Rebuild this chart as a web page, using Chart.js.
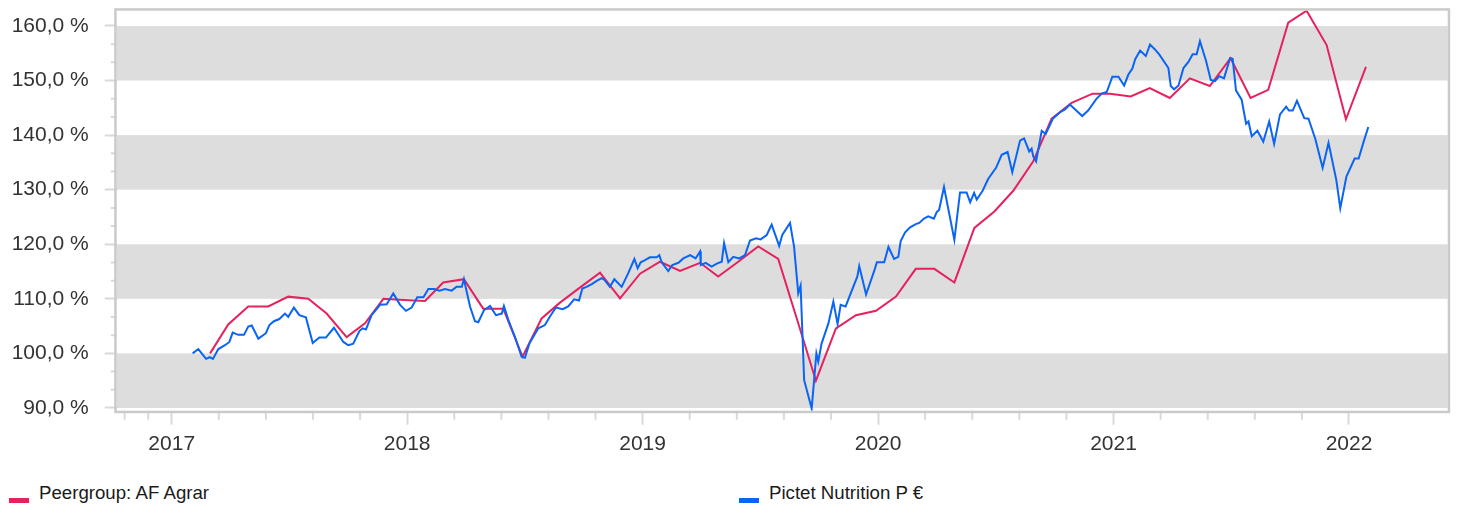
<!DOCTYPE html>
<html>
<head>
<meta charset="utf-8">
<script src="https://cdn.jsdelivr.net/npm/chart.js@4.4.1/dist/chart.umd.min.js"></script>
<style>
  html, body { margin: 0; padding: 0; background: #ffffff; }
  #wrap { position: relative; width: 1460px; height: 508px; overflow: hidden; }
  #box { position: absolute; left: 0; top: 0; width: 1460px; height: 470px; }
  .lg-item { position: absolute; top: 470px; width: 730px; height: 38px; }
  .lg-mark { position: absolute; left: 9px; top: 28px; width: 20px; height: 5px; }
  .lg-text { position: absolute; left: 39px; top: 12.8px; line-height: 20px; white-space: nowrap;
             font-family: "Liberation Sans", Arial, sans-serif; font-size: 18.67px; color: #1a1a1a; }
</style>
</head>
<body>
<div id="wrap">
  <div id="box"><canvas id="c"></canvas></div>
  <div id="legend"></div>
</div>
<script>
// ---------- data ----------
const seriesNames = ["Peergroup: AF Agrar", "Pictet Nutrition P €"];
const seriesColors = ["#e5225e", "#0a64f6"];

const yearTicks = [2017, 2018, 2019, 2020, 2021, 2022];
const xMinorTicks = [2016.8, 2016.9, 2017.2, 2017.4, 2017.6, 2017.8, 2018.2, 2018.4, 2018.6, 2018.8,
  2019.2, 2019.4, 2019.6, 2019.8, 2020.2, 2020.4, 2020.6, 2020.8, 2021.2, 2021.4, 2021.6, 2021.8];
const yTicks = [90, 100, 110, 120, 130, 140, 150, 160];
const bandRanges = [[90, 100], [110, 120], [130, 140], [150, 160]];

// Peergroup (monthly), x in decimal years, y in %
const peerX = [2017.163, 2017.240, 2017.325, 2017.410, 2017.495, 2017.580, 2017.658, 2017.743, 2017.821, 2017.899,
  2017.988, 2018.076, 2018.153, 2018.241, 2018.323, 2018.408, 2018.490, 2018.571, 2018.649, 2018.735,
  2018.819, 2018.904, 2018.989, 2019.074, 2019.159, 2019.244, 2019.321, 2019.406, 2019.491, 2019.576,
  2019.656, 2019.736, 2019.821, 2019.906, 2019.991, 2020.076, 2020.160, 2020.239, 2020.324, 2020.409,
  2020.494, 2020.574, 2020.659, 2020.737, 2020.822, 2020.911, 2020.985, 2021.073, 2021.154, 2021.239,
  2021.324, 2021.409, 2021.497, 2021.582, 2021.657, 2021.742, 2021.820, 2021.905, 2021.987, 2022.072];
const peerY = [100.0, 105.3, 108.6, 108.6, 110.4, 110.0, 107.3, 103.0, 105.5, 110.0,
  109.8, 109.6, 113.0, 113.6, 108.2, 108.2, 99.4, 106.4, 109.3, 112.1,
  114.8, 110.1, 114.6, 116.8, 115.1, 116.6, 114.1, 116.8, 119.6, 117.3,
  106.2, 95.0, 104.6, 107.0, 107.8, 110.4, 115.5, 115.5, 113.0, 123.0,
  126.0, 129.8, 135.2, 143.0, 145.9, 147.6, 147.6, 147.1, 148.6, 146.8,
  150.4, 149.0, 154.1, 146.8, 148.3, 160.6, 162.8, 156.5, 142.9, 152.5];

// Pictet Nutrition P € (weekly)
const fundX = [
  2017.089, 2017.113, 2017.146, 2017.161, 2017.175, 2017.198, 2017.226, 2017.245, 2017.259, 2017.283,
  2017.307, 2017.325, 2017.340, 2017.368, 2017.400, 2017.415, 2017.434, 2017.457, 2017.481, 2017.495,
  2017.519, 2017.542, 2017.570, 2017.599, 2017.627, 2017.655, 2017.689, 2017.729, 2017.750, 2017.771,
  2017.797, 2017.811, 2017.825, 2017.849, 2017.885, 2017.913, 2017.941, 2017.970, 2017.995, 2018.019,
  2018.043, 2018.069, 2018.090, 2018.114, 2018.137, 2018.161, 2018.189, 2018.210, 2018.232, 2018.241,
  2018.267, 2018.288, 2018.302, 2018.326, 2018.352, 2018.377, 2018.402, 2018.411, 2018.430, 2018.458,
  2018.486, 2018.500, 2018.519, 2018.557, 2018.585, 2018.607, 2018.632, 2018.661, 2018.684, 2018.709,
  2018.730, 2018.744, 2018.762, 2018.784, 2018.805, 2018.826, 2018.837, 2018.861, 2018.880, 2018.911,
  2018.939, 2018.965, 2018.979, 2018.992, 2019.010, 2019.031, 2019.060, 2019.071, 2019.081, 2019.109,
  2019.126, 2019.152, 2019.173, 2019.202, 2019.225, 2019.244, 2019.247, 2019.268, 2019.293, 2019.317,
  2019.336, 2019.346, 2019.364, 2019.385, 2019.410, 2019.435, 2019.456, 2019.482, 2019.501, 2019.527,
  2019.548, 2019.580, 2019.593, 2019.626, 2019.643, 2019.661, 2019.671, 2019.686, 2019.718, 2019.738,
  2019.746, 2019.760, 2019.789, 2019.810, 2019.828, 2019.841, 2019.862, 2019.912, 2019.920, 2019.949,
  2019.985, 2019.995, 2020.026, 2020.044, 2020.068, 2020.086, 2020.096, 2020.115, 2020.136, 2020.160,
  2020.175, 2020.195, 2020.213, 2020.237, 2020.249, 2020.259, 2020.280, 2020.324, 2020.348, 2020.376,
  2020.391, 2020.408, 2020.419, 2020.444, 2020.468, 2020.501, 2020.525, 2020.550, 2020.570, 2020.603,
  2020.620, 2020.642, 2020.652, 2020.659, 2020.671, 2020.695, 2020.712, 2020.742, 2020.773, 2020.794,
  2020.815, 2020.867, 2020.892, 2020.928, 2020.950, 2020.971, 2020.995, 2021.021, 2021.045, 2021.063,
  2021.080, 2021.092, 2021.113, 2021.137, 2021.155, 2021.176, 2021.194, 2021.233, 2021.243, 2021.257,
  2021.276, 2021.297, 2021.318, 2021.336, 2021.353, 2021.367, 2021.393, 2021.413, 2021.431, 2021.449,
  2021.469, 2021.495, 2021.506, 2021.520, 2021.544, 2021.563, 2021.573, 2021.587, 2021.611, 2021.636,
  2021.661, 2021.682, 2021.707, 2021.733, 2021.745, 2021.761, 2021.779, 2021.810, 2021.828, 2021.857,
  2021.888, 2021.913, 2021.946, 2021.963, 2021.989, 2022.024, 2022.041, 2022.063, 2022.082];
const fundY = [
  100.0, 100.8, 99.0, 99.3, 99.0, 100.8, 101.5, 102.1, 103.8, 103.4,
  103.4, 104.9, 105.1, 102.7, 103.7, 105.2, 105.9, 106.3, 107.3, 106.7,
  108.4, 107.0, 106.6, 101.9, 102.9, 102.9, 104.7, 102.1, 101.5, 101.8,
  104.1, 104.6, 104.4, 107.0, 108.9, 109.0, 111.0, 108.9, 107.8, 108.4,
  110.3, 110.3, 111.8, 111.8, 111.5, 111.8, 111.5, 112.2, 112.2, 113.6,
  108.6, 105.9, 105.7, 107.9, 108.7, 107.0, 107.3, 108.7, 106.1, 103.0,
  99.4, 99.2, 101.8, 104.6, 105.2, 106.8, 108.4, 108.1, 108.6, 109.9,
  109.7, 111.9, 112.2, 112.7, 113.3, 113.8, 113.5, 112.2, 113.6, 112.2,
  114.7, 117.3, 115.6, 116.7, 117.1, 117.6, 117.6, 118.0, 116.7, 115.1,
  116.2, 116.6, 117.4, 118.0, 117.4, 118.7, 116.2, 116.6, 115.9, 116.5,
  116.8, 120.2, 116.7, 117.7, 117.4, 118.0, 120.7, 121.1, 120.9, 121.7,
  123.6, 119.7, 121.7, 123.9, 119.6, 111.0, 112.4, 95.1, 89.9, 100.0,
  98.5, 101.8, 105.5, 109.5, 105.4, 108.9, 108.6, 114.1, 116.0, 110.8,
  115.3, 116.7, 116.7, 119.5, 117.3, 117.7, 120.6, 122.2, 123.1, 123.7,
  123.9, 124.7, 125.1, 124.7, 125.9, 126.3, 130.5, 120.8, 129.5, 129.5,
  127.7, 129.4, 128.2, 129.8, 132.0, 134.0, 136.4, 136.9, 133.2, 139.0,
  139.4, 137.0, 137.5, 136.1, 135.2, 140.8, 140.2, 143.0, 144.2, 144.7,
  145.6, 143.5, 144.5, 146.7, 147.6, 147.9, 150.7, 150.7, 149.1, 151.1,
  152.2, 153.9, 155.5, 154.5, 156.6, 155.7, 154.8, 152.3, 149.0, 148.4,
  149.1, 152.3, 153.4, 154.8, 154.8, 157.2, 153.6, 150.1, 149.9, 150.8,
  150.4, 154.1, 154.0, 148.2, 146.5, 142.1, 142.5, 139.8, 140.8, 138.8,
  142.5, 138.4, 143.8, 145.2, 144.5, 144.5, 146.3, 143.1, 143.0, 139.3,
  134.0, 138.6, 131.8, 126.6, 132.4, 135.7, 135.7, 138.9, 141.5];

// ---------- style ----------
const FONT = '"Liberation Sans", Arial, sans-serif';
const bandColor = '#dddddd';
const frameColor = '#cacaca';
const tickColor = '#d9d9d9';

const toPoints = (xs, ys) => xs.map((x, i) => ({ x: x, y: ys[i] }));

const decorPlugin = {
  id: 'decor',
  beforeDatasetsDraw(chart) {
    const { ctx, chartArea: a, scales: { x, y } } = chart;
    ctx.save();
    ctx.fillStyle = bandColor;
    for (const [lo, hi] of bandRanges) {
      const p1 = y.getPixelForValue(hi), p0 = y.getPixelForValue(lo);
      ctx.fillRect(a.left, p1, a.right - a.left, p0 - p1);
    }
    ctx.strokeStyle = tickColor;
    ctx.lineWidth = 2;
    ctx.beginPath();
    for (let i = 0; i < yTicks.length - 1; i++) {
      for (const f of [1 / 3, 2 / 3]) {
        const py = y.getPixelForValue(yTicks[i] + (yTicks[i + 1] - yTicks[i]) * f);
        ctx.moveTo(a.left - 6, py); ctx.lineTo(a.left, py);
      }
    }
    for (const v of xMinorTicks) {
      const px = x.getPixelForValue(v);
      ctx.moveTo(px, a.bottom); ctx.lineTo(px, a.bottom + 9);
    }
    ctx.stroke();
    ctx.strokeStyle = frameColor;
    ctx.lineWidth = 2.5;
    ctx.strokeRect(a.left - 1.25, a.top - 1.25, a.right - a.left + 2.5, a.bottom - a.top + 2.5);
    ctx.restore();
  }
};

const chart = new Chart(document.getElementById('c'), {
  type: 'line',
  data: {
    datasets: [
      { label: seriesNames[0], data: toPoints(peerX, peerY), borderColor: seriesColors[0],
        backgroundColor: seriesColors[0], borderWidth: 2, pointRadius: 0, tension: 0, order: 1 },
      { label: seriesNames[1], data: toPoints(fundX, fundY), borderColor: seriesColors[1],
        backgroundColor: seriesColors[1], borderWidth: 2, pointRadius: 0, tension: 0, order: 0 }
    ]
  },
  options: {
    responsive: true,
    maintainAspectRatio: false,
    devicePixelRatio: 1,
    animation: false,
    layout: { padding: { top: 10.7, right: 12.3, left: 0, bottom: 0 } },
    plugins: { legend: { display: false }, tooltip: { enabled: false } },
    scales: {
      x: {
        type: 'linear',
        min: 2016.7664,
        max: 2022.4192,
        afterBuildTicks: s => { s.ticks = yearTicks.map(v => ({ value: v })); },
        afterFit: s => { s.height = 59.3; s.paddingLeft = 0; s.paddingRight = 0; },
        grid: { drawOnChartArea: false, drawTicks: true, tickLength: 14, tickWidth: 2, tickColor: tickColor },
        border: { display: false },
        ticks: { padding: 7, color: '#333333', font: { family: FONT, size: 21 },
                 maxRotation: 0, autoSkip: false, callback: v => String(v) }
      },
      y: {
        type: 'linear',
        min: 89.5,
        max: 162.8,
        afterBuildTicks: s => { s.ticks = yTicks.map(v => ({ value: v })); },
        afterFit: s => { s.width = 116.7; s.paddingTop = 0; s.paddingBottom = 0; },
        grid: { drawOnChartArea: false, drawTicks: true, tickLength: 12, tickWidth: 2, tickColor: tickColor },
        border: { display: false },
        ticks: { padding: 16, color: '#333333', font: { family: FONT, size: 21 },
                 callback: v => v.toFixed(1).replace('.', ',') + ' %' }
      }
    }
  },
  plugins: [decorPlugin]
});

const lg = document.getElementById('legend');
chart.data.datasets.forEach((ds, i) => {
  const item = document.createElement('div');
  item.className = 'lg-item';
  item.style.left = (i * 730) + 'px';
  const mark = document.createElement('span');
  mark.className = 'lg-mark';
  mark.style.background = ds.borderColor;
  const txt = document.createElement('span');
  txt.className = 'lg-text';
  txt.textContent = ds.label;
  item.appendChild(mark); item.appendChild(txt);
  lg.appendChild(item);
});
</script>
</body>
</html>
